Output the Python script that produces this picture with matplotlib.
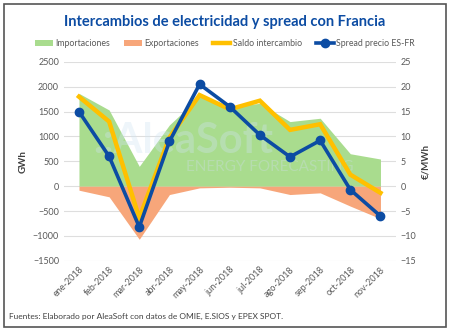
import matplotlib.pyplot as plt
from matplotlib.patches import Rectangle

plt.rcParams['font.family'] = ['Lato', 'DejaVu Sans']

meses = ["ene-2018", "feb-2018", "mar-2018", "abr-2018", "may-2018", "jun-2018",
         "jul-2018", "ago-2018", "sep-2018", "oct-2018", "nov-2018"]
importaciones = [1867, 1533, 400, 1233, 1800, 1600, 1667, 1300, 1367, 653, 547]
exportaciones = [-80, -213, -1067, -167, -33, -20, -33, -167, -133, -400, -653]
saldo = [1800, 1300, -640, 980, 1833, 1547, 1720, 1133, 1247, 233, -133]
spread = [15.0, 6.0, -8.2, 9.0, 20.5, 16.0, 10.3, 5.9, 9.2, -0.7, -6.0]

x = list(range(len(meses)))

fig = plt.figure(figsize=(4.5, 3.31), dpi=100)
fig.patches.append(Rectangle((0.008, 0.012), 0.984, 0.976, transform=fig.transFigure,
                             fill=False, edgecolor="#555555", linewidth=1.2))
ax = fig.add_axes([0.142, 0.212, 0.737, 0.601])
ax2 = ax.twinx()

ax.set_zorder(1)
ax2.set_zorder(2)
ax.patch.set_visible(False)

ax.grid(axis="y", color="#dedede", linewidth=0.8, zorder=0)
h_imp = ax.fill_between(x, 0, importaciones, color="#a9dc8e", linewidth=0, zorder=2,
                        label="Importaciones")
h_exp = ax.fill_between(x, exportaciones, 0, color="#f7a67a", linewidth=0, zorder=2,
                        label="Exportaciones")
h_sal, = ax.plot(x, saldo, color="#ffc000", linewidth=3.2, zorder=3,
                 solid_joinstyle="miter", label="Saldo intercambio")
h_spr, = ax2.plot(x, spread, color="#0c4ca3", linewidth=2.6, marker="o", markersize=6,
                  label="Spread precio ES-FR")

ax.set_ylim(-1500, 2500)
ax.set_yticks(range(-1500, 2501, 500))
ax2.set_ylim(-15, 25)
ax2.set_yticks(range(-15, 26, 5))
ax.set_xlim(-0.5, len(meses) - 0.5)
ax.set_xticks(x)
ax.set_xticklabels(meses, rotation=45, ha="right", rotation_mode="anchor")

for a in (ax, ax2):
    for s in a.spines.values():
        s.set_visible(False)
    a.tick_params(length=0, labelsize=6.5, colors="#595959")
ax.tick_params(axis="x", pad=3)

ax.set_ylabel("GWh", fontsize=7, color="#404040", fontweight="bold")
ax2.set_ylabel("€/MWh", fontsize=7, color="#404040", fontweight="bold")

# marca de agua
ax.text(0.36, 0.6, ".:AleaSoft", transform=ax.transAxes, fontsize=30, fontweight="bold",
        color="#d0e4f2", alpha=0.35, ha="center", va="center", zorder=2.5)
ax.text(0.62, 0.47, "ENERGY FORECASTING", transform=ax.transAxes, fontsize=11,
        color="#cfdcea", alpha=0.35, ha="center", va="center", zorder=2.5)

fig.text(0.5, 0.935, "Intercambios de electricidad y spread con Francia", ha="center",
         va="center", fontsize=10.5, fontweight="bold", color="#0c4ca3")
fig.legend(handles=[h_imp, h_exp, h_sal, h_spr], loc="center", bbox_to_anchor=(0.5, 0.868),
           ncol=4, frameon=False, fontsize=6.3, handlelength=2.0, handletextpad=0.3,
           columnspacing=1.6, labelcolor="#595959")

fig.text(0.02, 0.045, "Fuentes: Elaborado por AleaSoft con datos de OMIE, E.SIOS y EPEX SPOT.",
         fontsize=6, color="#404040", va="center")

plt.savefig("out.png", dpi=100)
